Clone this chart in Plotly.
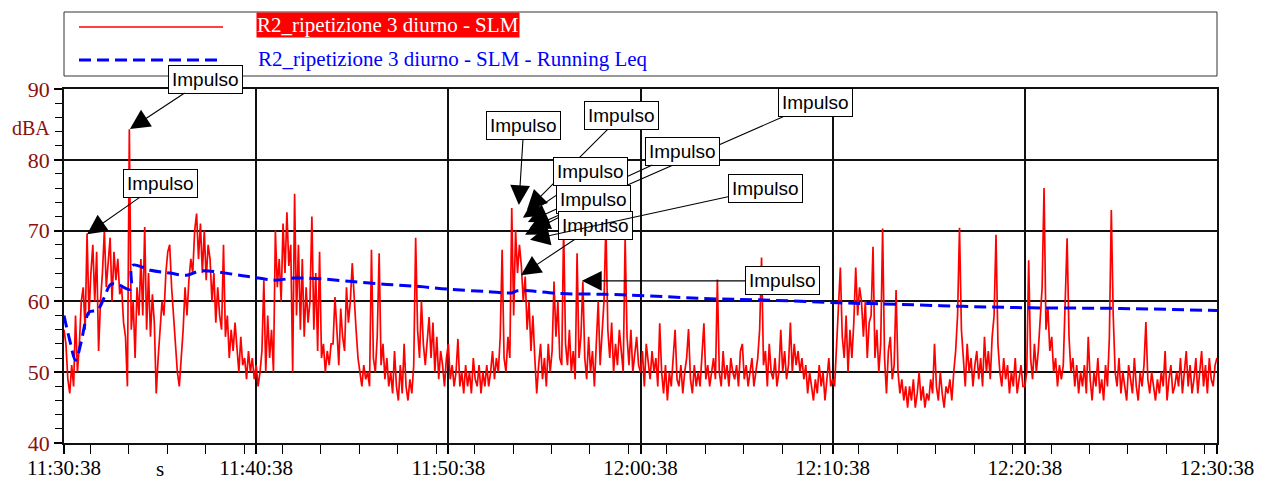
import datetime as dt
import plotly.graph_objects as go

# ---------------- data ----------------
START = dt.datetime(2024, 1, 1, 11, 30, 38)
SAMPLE_S = 6  # one reading every 6 s (10 per minute)

# SLM level (dBA), one row per minute, 10 readings per row
slm_rows = [
    [56, 54, 49, 47, 51, 48, 58, 50, 54, 60],
    [62, 56, 69.6, 58, 64, 68, 60, 67, 53, 60],
    [64, 70, 62, 66, 69, 60, 67, 63, 66, 61],
    [62, 57, 55, 48, 84.3, 56, 60, 52, 62, 58],
    [66, 58, 70.5, 56, 64, 55, 61, 57, 47, 52],
    [56, 60, 58, 64, 67, 68, 62, 58, 53, 50],
    [48, 52, 56, 62, 58, 63, 66, 64, 70, 72.4],
    [66, 71, 64, 70, 63, 68, 66, 60, 64, 57],
    [62, 58, 56, 68, 55, 58, 52, 56, 53, 57],
    [53, 50, 55, 51, 52, 49, 53, 50, 52, 49],
    [51, 48, 50, 53, 63, 50, 58, 52, 56, 50],
    [70, 62, 66, 60, 71, 64, 72.6, 65, 68, 50],
    [75.2, 58, 68, 56, 66, 55, 62, 57, 60, 72],
    [56, 64, 53, 67, 52, 54, 50, 53, 51, 54],
    [54, 60.6, 56, 51, 59, 55, 53, 62, 57, 60],
    [65.4, 60, 56, 52, 50, 48, 51, 49, 50, 48],
    [67.3, 52, 50, 55, 66.8, 51, 54, 49, 52, 48],
    [50, 47, 53, 48, 46, 51, 47, 54, 48, 46],
    [49, 47, 51, 69, 56, 52, 60, 54, 51, 55],
    [57.8, 52, 57, 50, 55, 49, 53, 51, 48, 52],
    [54, 49, 51, 48, 50, 54.7, 48, 50, 47, 51],
    [48, 50, 47, 52, 49, 48, 51, 47, 50, 48],
    [51, 48, 50, 53, 49, 52, 50, 55, 67.3, 52],
    [50, 55, 52, 73.2, 58, 70, 64, 68, 65, 60],
    [63.5, 56, 60, 53, 58, 52, 47, 51, 54, 49],
    [52, 48, 54, 50, 53, 62.8, 55, 60, 52, 51],
    [70.5, 54, 51, 56, 50, 53, 49, 66.8, 52, 55],
    [62.8, 52, 49, 55, 50, 53, 48, 54, 60, 51],
    [55, 60, 71, 56, 52, 57, 50, 54, 51, 56],
    [53, 50, 69, 55, 51, 56, 50, 53, 55, 51],
    [50, 53, 48, 54, 51, 49, 53, 50, 52, 48],
    [56.9, 50, 47, 51, 46, 50, 48, 52, 56, 49],
    [48, 51, 47, 50, 52, 56.1, 49, 47, 51, 48],
    [50, 48, 52, 56.9, 49, 51, 48, 50, 52, 49],
    [63.1, 50, 48, 53, 49, 51, 48, 52, 50, 49],
    [51, 48, 53, 54, 49, 51, 48, 50, 52, 48],
    [50, 52, 56, 66.2, 51, 53, 48, 54, 50, 49],
    [52, 48, 50, 56, 50, 53, 49, 51, 57, 50],
    [54, 51, 53, 50, 52, 49, 51, 47, 50, 48],
    [46, 49, 47, 51, 48, 50, 46, 49, 52, 48],
    [49, 48, 53, 58, 64.8, 55, 52, 58, 50, 56],
    [52, 57, 64.8, 58, 62, 60, 55, 60, 52, 57],
    [58, 67.7, 52, 56, 50, 54, 70.3, 52, 47, 53],
    [55, 49, 51, 61.6, 50, 47, 49, 46, 48, 45],
    [48, 46, 49, 45, 47, 50, 46, 48, 45, 47],
    [46, 49, 47, 54, 48, 46, 50, 47, 45, 48],
    [47, 49, 46, 50, 53, 58, 70.4, 56, 52, 48],
    [54, 50, 52, 48, 51, 53, 49, 52, 48, 55],
    [50, 53, 49, 55, 58, 69.4, 54, 50, 48, 52],
    [49, 51, 47, 50, 48, 52, 47, 49, 51, 48],
    [48, 50, 65.8, 52, 49, 54, 50, 53, 58, 62],
    [76, 56, 59.2, 53, 55, 50, 52, 48, 51, 49],
    [51, 61, 68.9, 55, 50, 52, 48, 51, 47, 50],
    [48, 51, 47, 55, 49, 46, 50, 48, 52, 47],
    [49, 46, 51, 48, 55, 72.9, 58, 50, 48, 52],
    [47, 50, 48, 46, 51, 49, 47, 52, 48, 46],
    [50, 48, 51, 57.1, 49, 47, 50, 48, 46, 49],
    [47, 50, 48, 53, 46, 49, 51, 47, 48, 50],
    [48, 52, 47, 50, 53, 48, 51, 47, 49, 52],
    [47, 50, 53, 48, 51, 47, 52, 49, 48, 51],
    [52],
]

# Running Leq (dBA) read at these minutes after start
leq_min = [0, 0.3, 0.6, 0.87, 1.13, 1.3, 1.75, 2.1, 2.43, 2.8, 3.45, 3.56, 4.5, 5.5,
           6.4, 7.1, 8.9, 10.1, 11.0, 12.0, 13.3, 15.0, 16.8, 18.5, 20.1, 22.0,
           23.3, 23.6, 25.9, 28.2, 30.3, 33.3, 36.4, 40.3, 43.3, 46.8, 50.3, 55.0, 60.0]
leq_val = [58, 54.5, 51.7, 54, 57.3, 58.5, 58.8, 60.6, 62.4, 62.4, 61.7, 65.1, 64.4, 64.0,
           63.7, 64.3, 63.8, 63.3, 63.0, 63.3, 63.2, 62.8, 62.4, 62.1, 61.7, 61.4,
           61.2, 61.5, 61.1, 61.0, 60.8, 60.4, 60.2, 59.8, 59.6, 59.3, 59.1, 59.0, 58.7]

# "Impulso" markers: minute after start and level at arrow tip
imp_min = [3.43, 1.2, 23.67, 24.09, 24.25, 24.14, 23.88, 23.99, 23.78, 24.25, 26.95]
imp_val = [84.35, 69.5, 73.6, 72.9, 70.4, 71.2, 71.8, 69.4, 63.7, 68.7, 62.9]
imp_text = "Impulso"

# label-box offsets (pixels, layout only)
imp_ax = [76, 73, 5, 95, 285, 155, 68, 68, 75, 235, 201]
imp_ay = [-50, -51, -80, -95, -125, -71, -46, -35, -50, -51, 0]

legend_names = ["R2_ripetizione 3 diurno - SLM",
                "R2_ripetizione 3 diurno - SLM - Running Leq"]
x_unit = "s"
y_unit = "dBA"

# ---------------- build ----------------
slm_t, slm_v = [], []
for m, row in enumerate(slm_rows):
    for i, v in enumerate(row):
        slm_t.append(START + dt.timedelta(seconds=m * 60 + i * SAMPLE_S))
        slm_v.append(v)
leq_t = [START + dt.timedelta(minutes=t) for t in leq_min]
imp_t = [START + dt.timedelta(minutes=t) for t in imp_min]

SERIF = "Liberation Serif, Times New Roman, serif"
SANS = "Liberation Sans, Arial, sans-serif"
DARKRED = "#8B1010"

fig = go.Figure()
fig.add_trace(go.Scatter(x=slm_t, y=slm_v, mode="lines", name=legend_names[0],
                         line=dict(color="#FF0000", width=1.7)))
fig.add_trace(go.Scatter(x=leq_t, y=leq_val, mode="lines", name=legend_names[1],
                         line=dict(color="#0000FF", width=3, dash="12px,6px", shape="spline")))

annotations = []
for t, v, ax, ay in zip(imp_t, imp_val, imp_ax, imp_ay):
    annotations.append(dict(
        x=t, y=v, xref="x", yref="y", text=imp_text, showarrow=True,
        ax=ax, ay=ay, arrowhead=2, arrowsize=3.6, arrowwidth=1.1, arrowcolor="black",
        font=dict(family=SANS, size=19, color="black"),
        bgcolor="white", bordercolor="black", borderwidth=1, borderpad=3,
    ))

# manual legend (plot area spans x 64..1217, y 89..443 in page pixels)
W = 1153.0
H = 354.0
def px(xp):
    return (xp - 64) / W
def py(yp):
    return (443 - yp) / H

shapes = [
    dict(type="rect", xref="paper", yref="paper", x0=0, x1=1, y0=py(76), y1=py(12),
         line=dict(color="#333", width=1), fillcolor="white", layer="below"),
    dict(type="line", xref="paper", yref="paper", x0=px(79), x1=px(223), y0=py(27), y1=py(27),
         line=dict(color="#FF0000", width=1.4)),
    dict(type="line", xref="paper", yref="paper", x0=px(79), x1=px(223), y0=py(60), y1=py(60),
         line=dict(color="#0000FF", width=3, dash="12px,6px")),
]
annotations += [
    dict(xref="paper", yref="paper", x=px(256), y=py(25), xanchor="left", yanchor="middle",
         text=legend_names[0], showarrow=False, bgcolor="#FF0000", borderpad=0,
         font=dict(family=SERIF, size=21, color="white")),
    dict(xref="paper", yref="paper", x=px(256), y=py(59), xanchor="left", yanchor="middle",
         text=legend_names[1], showarrow=False,
         font=dict(family=SERIF, size=21, color="#0000FF")),
    dict(xref="paper", yref="y", x=px(52), y=84.5, xanchor="right", yanchor="middle",
         text=y_unit, showarrow=False, font=dict(family=SERIF, size=20, color=DARKRED)),
    dict(xref="paper", yref="paper", x=px(160), y=py(469), xanchor="center", yanchor="middle",
         text=x_unit, showarrow=False, font=dict(family=SERIF, size=21, color="black")),
]

# page body has an 8px margin, so the figure is 8px smaller and margins shifted
fig.update_layout(
    width=1261, height=474,
    margin=dict(l=56, r=52, t=81, b=39, autoexpand=False),
    paper_bgcolor="white", plot_bgcolor="white",
    showlegend=False,
    shapes=shapes, annotations=annotations,
)
fig.update_xaxes(
    type="date", range=[START, START + dt.timedelta(minutes=60)],
    tick0=START, dtick=600000, tickformat="%H:%M:%S",
    ticks="outside", ticklen=9, tickwidth=1.5, tickcolor="black",
    showgrid=True, gridcolor="#111", gridwidth=1.6,
    showline=True, linecolor="#111", linewidth=1.6, mirror=True,
    minor=dict(dtick=120000, ticks="outside", ticklen=9, tickwidth=1.2, tickcolor="black", showgrid=False),
    tickfont=dict(family=SERIF, size=21, color="black"),
    ticklabelstandoff=-4,
    zeroline=False, automargin=False,
)
fig.update_yaxes(
    range=[40, 90], dtick=10, tick0=40,
    ticks="outside", ticklen=8, tickwidth=1.5, tickcolor="black",
    showgrid=True, gridcolor="#111", gridwidth=1.6,
    showline=True, linecolor="#111", linewidth=1.6, mirror=True,
    minor=dict(dtick=2, ticks="outside", ticklen=7, tickwidth=1.2, tickcolor="black", showgrid=False),
    tickfont=dict(family=SERIF, size=22, color=DARKRED),
    zeroline=False, automargin=False,
)

fig.write_html("out.html")
